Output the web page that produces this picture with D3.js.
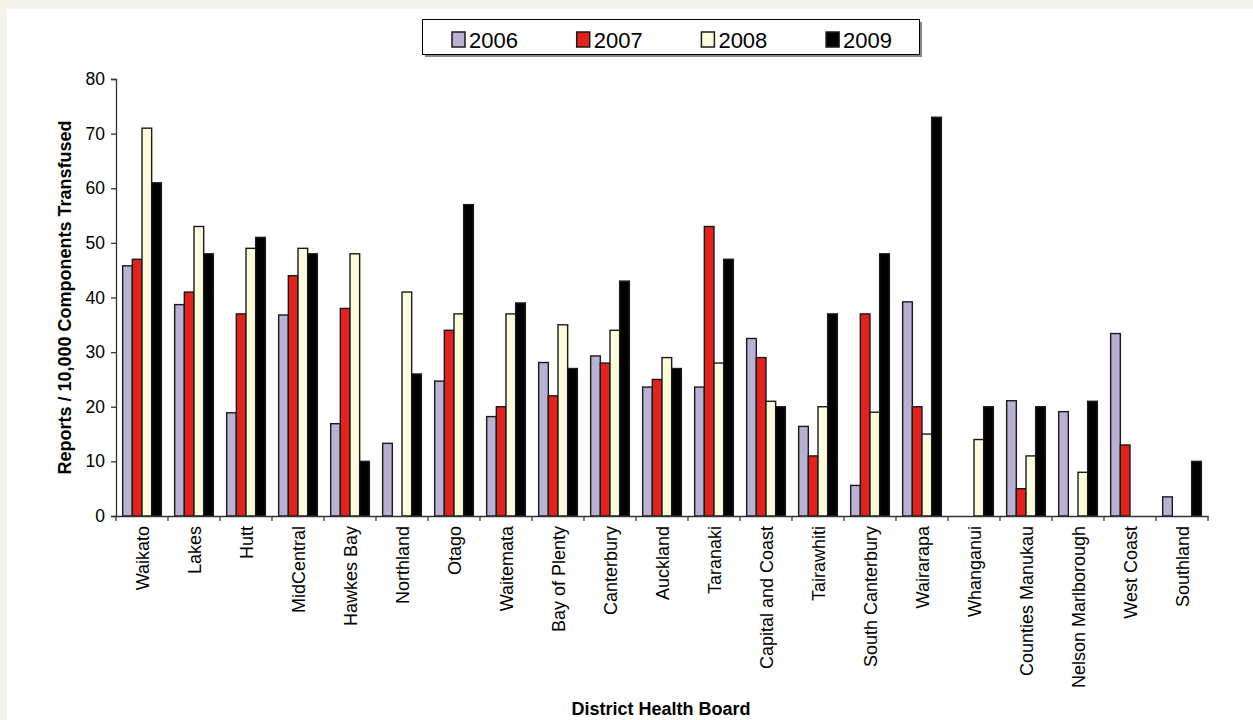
<!DOCTYPE html>
<html>
<head>
<meta charset="utf-8">
<script src="https://cdn.jsdelivr.net/npm/d3@7"></script>
<style>
  html, body { margin: 0; padding: 0; background: #f5f2ea; }
  svg { display: block; }
</style>
</head>
<body>
<svg id="chart" width="1253" height="720"></svg>
<script>
const categories = ["Waikato","Lakes","Hutt","MidCentral","Hawkes Bay","Northland","Otago","Waitemata","Bay of Plenty","Canterbury","Auckland","Taranaki","Capital and Coast","Tairawhiti","South Canterbury","Wairarapa","Whanganui","Counties Manukau","Nelson Marlborough","West Coast","Southland"];
const seriesNames = ["2006","2007","2008","2009"];
const v2006 = [45.8,38.7,18.9,36.8,16.9,13.3,24.7,18.2,28.1,29.3,23.6,23.6,32.5,16.4,5.6,39.2,0,21.1,19.1,33.4,3.5];
const v2007 = [47,41,37,44,38,0,34,20,22,28,25,53,29,11,37,20,0,5,0,13,0];
const v2008 = [71,53,49,49,48,41,37,37,35,34,29,28,21,20,19,15,14,11,8,0,0];
const v2009 = [61,48,51,48,10,26,57,39,27,43,27,47,20,37,48,73,20,20,21,0,10];
const yTicks = [0,10,20,30,40,50,60,70,80];
const colors = ["#bab0d4","#e0231f","#fcfbdc","#000000"];

(function () {
const seriesValues = [v2006, v2007, v2008, v2009];
const svg = d3.select("#chart");

// white panel
svg.append("rect").attr("x", 7).attr("y", 9).attr("width", 1246).attr("height", 711).attr("fill", "#ffffff");

const mLeft = 116, mRight = 1208, mTop = 79, mBottom = 516;
const x = d3.scaleBand().domain(categories).range([mLeft, mRight]).paddingInner(0).paddingOuter(0);
const bw = x.bandwidth();
const inner = d3.scaleBand().domain(seriesNames).range([bw * 0.128, bw * 0.872]).padding(0);
const y = d3.scaleLinear().domain([0, 80]).range([mBottom, mTop]);

const font = "Liberation Sans, Arial, Helvetica, sans-serif";

// bars
seriesNames.forEach((s, si) => {
  const vals = seriesValues[si];
  svg.append("g").selectAll("rect")
    .data(categories.map((c, i) => ({c, v: vals[i]})).filter(d => d.v > 0))
    .join("rect")
    .attr("x", d => x(d.c) + inner(s))
    .attr("y", d => y(d.v))
    .attr("width", inner.bandwidth())
    .attr("height", d => y(0) - y(d.v))
    .attr("fill", colors[si])
    .attr("stroke", "#1a1a1a")
    .attr("stroke-width", 1.4);
});

// y axis
const yAxis = svg.append("g").attr("transform", `translate(${mLeft},0)`)
  .call(d3.axisLeft(y).tickValues(yTicks).tickSize(5).tickPadding(6));
yAxis.select(".domain").attr("stroke", "#333").attr("stroke-width", 1.3);
yAxis.selectAll(".tick line").attr("stroke", "#333").attr("stroke-width", 1.3);
yAxis.selectAll(".tick text").attr("font-family", font).attr("font-size", 17.5).attr("fill", "#000");

// x axis
const xAxis = svg.append("g").attr("transform", `translate(0,${mBottom})`)
  .call(d3.axisBottom(x).tickSize(0).tickFormat(""));
xAxis.select(".domain").attr("stroke", "#333").attr("stroke-width", 1.3);
xAxis.selectAll(".tick").remove();
const bounds = categories.map(c => x(c)).concat([mRight]);
svg.append("g").selectAll("line").data(bounds).join("line")
  .attr("x1", d => d).attr("x2", d => d)
  .attr("y1", mBottom).attr("y2", mBottom + 5)
  .attr("stroke", "#333").attr("stroke-width", 1.3);

// x labels
svg.append("g").selectAll("text").data(categories).join("text")
  .attr("transform", d => `translate(${x(d) + bw/2 + 6.5},${mBottom + 10}) rotate(-90)`)
  .attr("text-anchor", "end")
  .attr("font-family", font).attr("font-size", 18).attr("fill", "#000")
  .text(d => d);

// axis titles
svg.append("text")
  .attr("transform", `translate(71,${(mTop + mBottom)/2}) rotate(-90)`)
  .attr("text-anchor", "middle")
  .attr("font-family", font).attr("font-size", 18).attr("font-weight", "bold")
  .text("Reports / 10,000 Components Transfused");

svg.append("text")
  .attr("x", 661).attr("y", 715)
  .attr("text-anchor", "middle")
  .attr("font-family", font).attr("font-size", 18).attr("font-weight", "bold")
  .text("District Health Board");

// legend
const lg = svg.append("g");
lg.append("rect").attr("x", 425).attr("y", 22).attr("width", 497).attr("height", 35).attr("fill", "#888");
lg.append("rect").attr("x", 422.5).attr("y", 19.5).attr("width", 497).attr("height", 35)
  .attr("fill", "#fff").attr("stroke", "#000").attr("stroke-width", 1);
seriesNames.forEach((s, i) => {
  const gx = 452 + i * 124.7;
  lg.append("rect").attr("x", gx).attr("y", 32).attr("width", 13).attr("height", 15)
    .attr("fill", colors[i]).attr("stroke", "#1a1a1a").attr("stroke-width", 1.5);
  lg.append("text").attr("x", gx + 17).attr("y", 47.5)
    .attr("font-family", font).attr("font-size", 22).attr("fill", "#000")
    .text(s);
});
})();
</script>
</body>
</html>
